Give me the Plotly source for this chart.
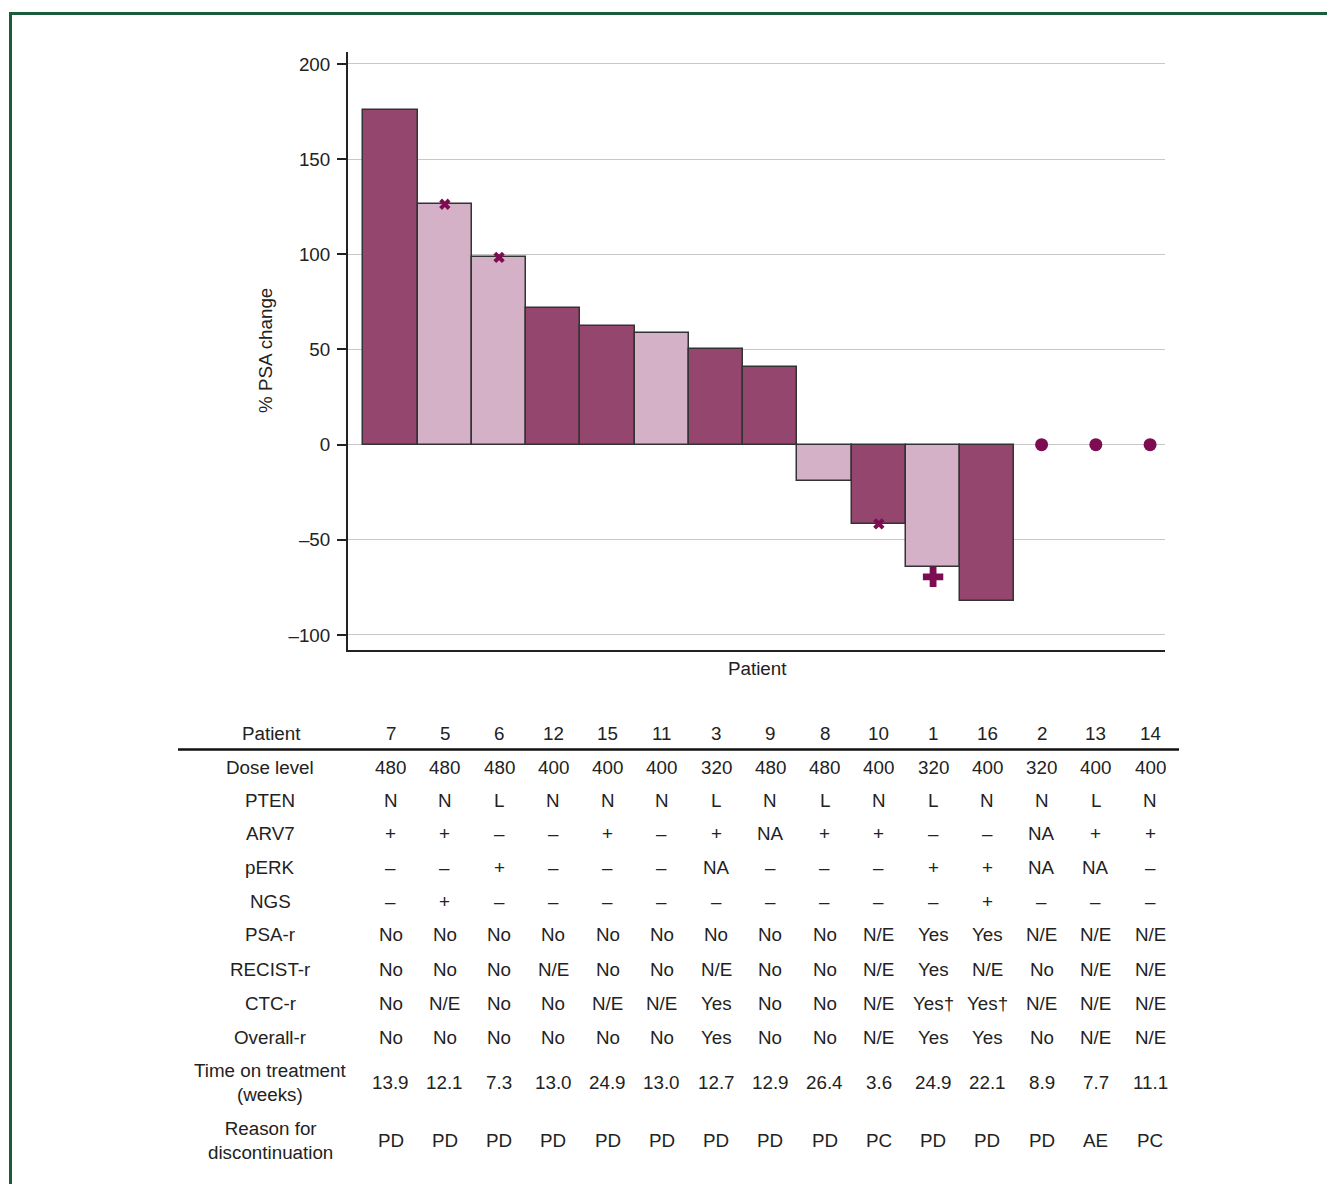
import plotly.graph_objects as go

OFF = 8  # browser default body margin
W, H = 1335 - OFF, 1184 - OFF

patients = ["7", "5", "6", "12", "15", "11", "3", "9", "8", "10", "1", "16", "2", "13", "14"]
psa_change = [175.8, 126.3, 98.4, 71.6, 62.6, 58.4, 50.0, 41.0, -19.0, -41.6, -64.2, -82.1, None, None, None]
bar_group = ["dark", "light", "light", "dark", "dark", "light", "dark", "dark", "light", "dark", "light", "dark", None, None, None]

x_mark_patients = ["5", "6", "10"]
x_mark_values = [126.3, 98.4, -41.6]
plus_mark_patients = ["1"]
plus_mark_values = [-69.5]
dot_patients = ["2", "13", "14"]
dot_values = [0, 0, 0]

y_ticks = [200, 150, 100, 50, 0, -50, -100]
y_ticktext = ["200", "150", "100", "50", "0", "–50", "–100"]

row_labels = ["Dose level", "PTEN", "ARV7", "pERK", "NGS", "PSA-r", "RECIST-r", "CTC-r", "Overall-r",
              "Time on treatment<br>(weeks)", "Reason for<br>discontinuation"]
dose_level = ["480", "480", "480", "400", "400", "400", "320", "480", "480", "400", "320", "400", "320", "400", "400"]
pten = ["N", "N", "L", "N", "N", "N", "L", "N", "L", "N", "L", "N", "N", "L", "N"]
arv7 = ["+", "+", "–", "–", "+", "–", "+", "NA", "+", "+", "–", "–", "NA", "+", "+"]
perk = ["–", "–", "+", "–", "–", "–", "NA", "–", "–", "–", "+", "+", "NA", "NA", "–"]
ngs = ["–", "+", "–", "–", "–", "–", "–", "–", "–", "–", "–", "+", "–", "–", "–"]
psa_r = ["No", "No", "No", "No", "No", "No", "No", "No", "No", "N/E", "Yes", "Yes", "N/E", "N/E", "N/E"]
recist_r = ["No", "No", "No", "N/E", "No", "No", "N/E", "No", "No", "N/E", "Yes", "N/E", "No", "N/E", "N/E"]
ctc_r = ["No", "N/E", "No", "No", "N/E", "N/E", "Yes", "No", "No", "N/E", "Yes†", "Yes†", "N/E", "N/E", "N/E"]
overall_r = ["No", "No", "No", "No", "No", "No", "Yes", "No", "No", "N/E", "Yes", "Yes", "No", "N/E", "N/E"]
time_on_treatment = ["13.9", "12.1", "7.3", "13.0", "24.9", "13.0", "12.7", "12.9", "26.4", "3.6", "24.9", "22.1", "8.9", "7.7", "11.1"]
reason = ["PD", "PD", "PD", "PD", "PD", "PD", "PD", "PD", "PD", "PC", "PD", "PD", "PD", "AE", "PC"]
table_rows = [dose_level, pten, arv7, perk, ngs, psa_r, recist_r, ctc_r, overall_r, time_on_treatment, reason]

# styles
DARK = "#94466f"
LIGHT = "#d4b1c6"
MARK = "#7d0c52"
FONT = "Liberation Sans, Arial, Helvetica, sans-serif"
TXT = "#222222"
FS = 18.8
row_y_px = [767, 800, 833, 867, 901, 934, 969, 1003, 1037, 1082, 1140]


def py(p):
    return 1 - (p - OFF) / H


def px(p):
    return (p - OFF) / W


idx = list(range(len(patients)))
colors = [DARK if g == "dark" else LIGHT for g in bar_group]

fig = go.Figure()
fig.add_trace(go.Bar(
    x=idx, y=psa_change, width=1.0,
    marker=dict(color=colors, line=dict(color="#333333", width=1.5)),
    showlegend=False, hoverinfo="skip"))
fig.add_trace(go.Scatter(
    x=[patients.index(p) for p in x_mark_patients], y=x_mark_values, mode="markers",
    marker=dict(symbol="x", size=10, color=MARK, line=dict(width=0)), showlegend=False))
fig.add_trace(go.Scatter(
    x=[patients.index(p) for p in plus_mark_patients], y=plus_mark_values, mode="markers",
    marker=dict(symbol="cross", size=17, color=MARK, line=dict(width=0)), showlegend=False))
fig.add_trace(go.Scatter(
    x=[patients.index(p) for p in dot_patients], y=dot_values, mode="markers",
    marker=dict(symbol="circle", size=13, color=MARK, line=dict(width=0)), showlegend=False))

fig.update_layout(
    width=W, height=H,
    margin=dict(l=0, r=0, t=0, b=0),
    paper_bgcolor="white", plot_bgcolor="white",
    font=dict(family=FONT, size=FS, color=TXT),
    bargap=0,
    xaxis=dict(domain=[px(348), px(1165)], range=[-0.785, 14.275], showticklabels=False,
               showgrid=False, zeroline=False, showline=True, linecolor="#222222", linewidth=2,
               ticks=""),
    yaxis=dict(domain=[py(650), py(52)], range=[-107.9, 206.3], tickvals=y_ticks, ticktext=y_ticktext,
               showgrid=True, gridcolor="#c8c8c8", gridwidth=1, zeroline=False,
               showline=True, linecolor="#222222", linewidth=2, ticks="outside", ticklen=9,
               tickcolor="#222222", tickwidth=1.5, ticklabelstandoff=3,
               tickfont=dict(size=FS, color=TXT)),
)

ann = []
ann.append(dict(x=px(265), y=py(351), xref="paper", yref="paper", text="% PSA change", textangle=-90,
                xanchor="center", yanchor="middle", showarrow=False, font=dict(size=FS, color=TXT)))
ann.append(dict(x=px(757), y=py(668), xref="paper", yref="paper", text="Patient",
                xanchor="center", yanchor="middle", showarrow=False, font=dict(size=FS, color=TXT)))
ann.append(dict(x=px(271), y=py(733), xref="paper", yref="paper", text="Patient",
                xanchor="center", yanchor="middle", showarrow=False, font=dict(size=FS, color=TXT)))
for i, p in enumerate(patients):
    ann.append(dict(x=i, y=py(733), xref="x", yref="paper", text=p, showarrow=False,
                    xanchor="center", yanchor="middle", font=dict(size=FS, color=TXT)))
for label, vals, ypx in zip(row_labels, table_rows, row_y_px):
    ann.append(dict(x=px(270), y=py(ypx), xref="paper", yref="paper", text=label, showarrow=False,
                    xanchor="center", yanchor="middle", font=dict(size=FS, color=TXT), align="center"))
    for i, v in enumerate(vals):
        ann.append(dict(x=i, y=py(ypx), xref="x", yref="paper", text=v, showarrow=False,
                        xanchor="center", yanchor="middle", font=dict(size=FS, color=TXT)))
fig.update_layout(annotations=ann)

shapes = [
    dict(type="line", xref="paper", yref="paper", x0=px(178), x1=px(1179), y0=py(749.5), y1=py(749.5),
         line=dict(color="#111111", width=2.5)),
    dict(type="line", xref="paper", yref="paper", x0=px(9), x1=1, y0=py(13.5), y1=py(13.5),
         line=dict(color="#1b5c3a", width=3)),
    dict(type="line", xref="paper", yref="paper", x0=px(10.5), x1=px(10.5), y0=py(12), y1=0,
         line=dict(color="#1b5c3a", width=3)),
]
fig.update_layout(shapes=shapes)

fig.write_html("out.html")
